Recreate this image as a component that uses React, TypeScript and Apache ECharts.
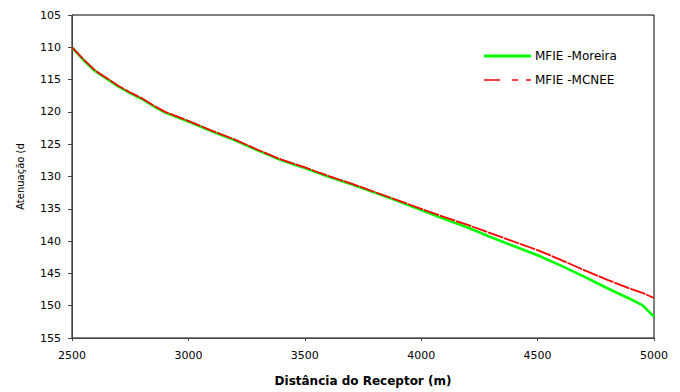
import React, { useEffect, useRef } from "react";
import * as echarts from "echarts";

const distances = [
  2500, 2550, 2600, 2650, 2700, 2750, 2800, 2850, 2900, 2950, 3000,
  3100, 3200, 3300, 3400, 3500, 3600, 3700, 3800, 3900, 4000,
  4100, 4200, 4300, 4400, 4500, 4600, 4700, 4800, 4900, 4950, 5000,
];

const moreira = [
  110.0, 112.0, 113.7, 114.9, 116.1, 117.1, 118.0, 119.1, 120.1, 120.8, 121.5,
  123.0, 124.4, 126.0, 127.5, 128.7, 130.0, 131.2, 132.5, 133.8, 135.2,
  136.6, 137.9, 139.4, 140.8, 142.2, 143.8, 145.5, 147.3, 149.0, 149.9, 151.7,
];

const mcnee = [
  110.0, 111.9, 113.6, 114.8, 116.0, 117.0, 117.9, 119.0, 120.0, 120.7, 121.4,
  122.9, 124.3, 125.9, 127.4, 128.6, 129.9, 131.1, 132.4, 133.7, 135.0,
  136.3, 137.5, 138.8, 140.1, 141.4, 142.9, 144.5, 146.0, 147.4, 148.0, 148.8,
];

const seriesNames = ["MFIE -Moreira", "MFIE -MCNEE"];
const seriesColors = ["#00ff00", "#ff0000"];
const yTicks = { min: 105, max: 155, interval: 5 };
const xTicks = { min: 2500, max: 5000, interval: 500 };

export default function App() {
  const ref = useRef<HTMLDivElement>(null);
  useEffect(() => {
    if (!ref.current) return;
    const chart = echarts.init(ref.current, null, { renderer: "svg" });
    const font = "'DejaVu Sans', 'Liberation Sans', Arial, sans-serif";
    const legendX = 484;
    const legendY = [56, 80];
    chart.setOption({
      animation: false,
      backgroundColor: "#ffffff",
      textStyle: { fontFamily: font },
      grid: {
        left: 72,
        right: 26,
        top: 15,
        bottom: 54,
        show: true,
        borderColor: "#000",
        borderWidth: 1,
        backgroundColor: "transparent",
      },
      graphic: [
        {
          type: "line",
          shape: { x1: legendX, y1: legendY[0], x2: legendX + 47, y2: legendY[0] },
          style: { stroke: seriesColors[0], lineWidth: 3 },
        },
        {
          type: "text",
          x: legendX + 51,
          y: legendY[0],
          style: {
            text: seriesNames[0],
            fill: "#000",
            font: `12px ${font}`,
            verticalAlign: "middle",
          },
        },
        {
          type: "line",
          shape: { x1: legendX, y1: legendY[1], x2: legendX + 47, y2: legendY[1] },
          style: { stroke: seriesColors[1], lineWidth: 1.5, lineDash: [16, 12, 6, 8, 6] },
        },
        {
          type: "text",
          x: legendX + 51,
          y: legendY[1],
          style: {
            text: seriesNames[1],
            fill: "#000",
            font: `12px ${font}`,
            verticalAlign: "middle",
          },
        },
      ],
      xAxis: {
        type: "value",
        min: xTicks.min,
        max: xTicks.max,
        interval: xTicks.interval,
        name: "Distância do Receptor (m)",
        nameLocation: "middle",
        nameGap: 37,
        nameTextStyle: { fontFamily: font, fontSize: 12, fontWeight: "bold", color: "#000" },
        axisLine: { show: true, lineStyle: { color: "#444", width: 1 } },
        axisTick: { show: true, inside: false, length: 3, lineStyle: { color: "#444" } },
        axisLabel: {
          fontFamily: font,
          fontSize: 11,
          color: "#000",
          margin: 12,
          formatter: (v: number) => String(v),
        },
        splitLine: { show: false },
      },
      yAxis: {
        type: "value",
        inverse: true,
        min: yTicks.min,
        max: yTicks.max,
        interval: yTicks.interval,
        name: "Atenuação (d",
        nameLocation: "middle",
        nameRotate: 90,
        nameGap: 47,
        nameTextStyle: { fontFamily: font, fontSize: 10, color: "#000" },
        axisLine: { show: true, lineStyle: { color: "#444", width: 1 } },
        axisTick: { show: true, inside: false, length: 4, lineStyle: { color: "#444" } },
        axisLabel: {
          fontFamily: font,
          fontSize: 11,
          color: "#000",
          margin: 11,
          formatter: (v: number) => String(v),
        },
        splitLine: { show: false },
      },
      series: [
        {
          name: seriesNames[0],
          type: "line",
          symbol: "none",
          data: distances.map((d, i) => [d, moreira[i]]),
          lineStyle: { color: seriesColors[0], width: 2.6 },
          itemStyle: { color: seriesColors[0] },
          z: 2,
        },
        {
          name: seriesNames[1],
          type: "line",
          symbol: "none",
          data: distances.map((d, i) => [d, mcnee[i]]),
          lineStyle: { color: seriesColors[1], width: 1.8, type: [16, 1] },
          itemStyle: { color: seriesColors[1] },
          z: 3,
        },
      ],
    });
    return () => chart.dispose();
  }, []);
  return (
    <div
      ref={ref}
      style={{ position: "fixed", left: 0, top: 0, width: 680, height: 392 }}
    />
  );
}
